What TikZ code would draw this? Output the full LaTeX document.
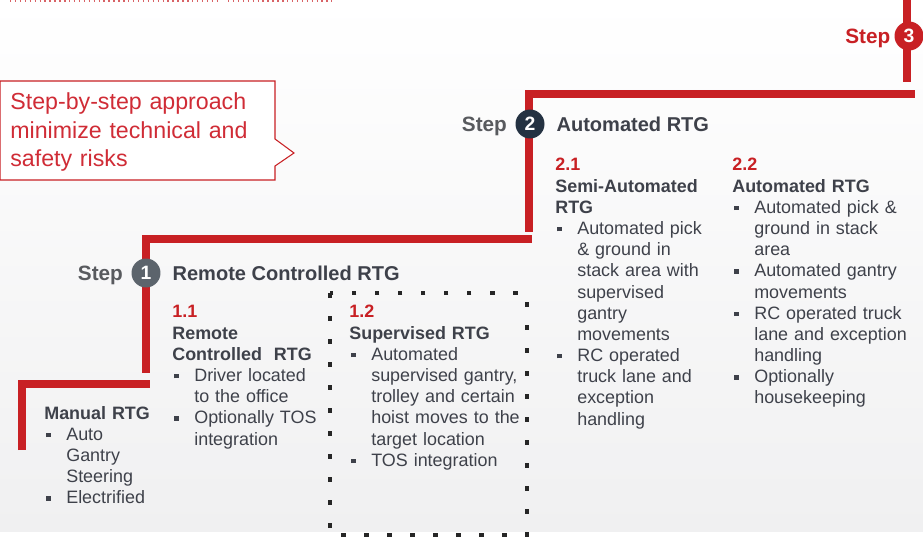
\documentclass[tikz,border=0pt]{standalone}
\usepackage{fontspec}
\setmainfont{Liberation Sans}
\usetikzlibrary{positioning}

\definecolor{stepred}{RGB}{200,32,36}
\definecolor{notered}{RGB}{208,44,54}
\definecolor{textgray}{RGB}{62,65,74}
\definecolor{labelgray}{RGB}{88,90,94}
\definecolor{dotgray}{RGB}{92,100,108}
\definecolor{dotnavy}{RGB}{36,50,66}
\definecolor{bggray}{RGB}{240,240,241}

\newcommand{\bl}{\makebox[12.5pt][l]{\hspace{1.2pt}\rule[1.8pt]{2.4pt}{2.4pt}}}
\newcommand{\ct}{\hspace*{12.5pt}}
\newcommand{\secno}[1]{{\color{stepred}\bfseries #1}}

\begin{document}
\begin{tikzpicture}
                [
                    x=0.02cm, y=-0.02cm,
                    stair/.style = {draw=stepred, line width=5pt, line join=miter},
                    stepdot/.style = {circle, fill=#1, text=white, font=\fontsize{11}{12}\selectfont\bfseries, minimum size=16.5pt, inner sep=0pt},
                    steplabel/.style = {text=labelgray, font=\fontsize{11.8}{14}\selectfont\bfseries, inner sep=0pt, text depth=0pt},
                    heading/.style = {text=textgray, font=\fontsize{11.4}{14}\selectfont\bfseries, inner sep=0pt},
                    textblock/.style = {anchor=base west, text width=4cm, align=left, inner sep=0pt, text=textgray, font=\fontsize{10.2}{12.05}\selectfont},
                    notebox/.style = {draw=stepred, fill=white, line width=0.6pt},
                    notetext/.style = {anchor=base west, text width=6cm, align=left, inner sep=0pt, text=notered, font=\fontsize{13.2}{16.2}\selectfont},
                    dotbox/.style = {draw=black!85, line width=2.6pt, dash pattern=on 2.6pt off 10.5pt}
                ]

                \useasboundingbox (0,0) rectangle (923,540);
                \shade[top color=white, bottom color=bggray] (0,0) rectangle (923,531);
                \draw[stepred!70, line width=0.8pt, dotted] (10,1) -- (217,1) (228,1) -- (332,1);

                % staircase
                \coordinate (s0b) at (22,450);
                \coordinate (s0e) at (150,384);
                \coordinate (s1b) at (146,373);
                \coordinate (s1e) at (532,239);
                \coordinate (s2b) at (529,232);
                \coordinate (s2e) at (915,94);
                \coordinate (s3b) at (907,82);
                \coordinate (s3e) at (907,0);
                \draw[stair] (s0b) |- (s0e);
                \draw[stair] (s1b) |- (s1e);
                \draw[stair] (s2b) |- (s2e);
                \draw[stair] (s3b) -- (s3e);

                \node (one) [stepdot=dotgray] at (146,273) {1};
                \node (two) [stepdot=dotnavy] at (530,124) {2};
                \node (three) [stepdot=stepred] at (909,36) {3};

                \node (stepone) [steplabel, left=4.5pt of one] {Step};
                \node (steptwo) [steplabel, left=4.5pt of two] {Step};
                \node (stepthree) [steplabel, text=stepred, left=2pt of three] {Step};

                \node (rc) [heading, right=6.5pt of one] {Remote Controlled RTG};
                \node (auto) [heading, right=6.5pt of two] {Automated RTG};

                % callout
                \draw[notebox] (0,81) -- (275,81) -- (275,139) -- (294,153) -- (275,166) -- (275,180) -- (0,180) -- cycle;
                \node (note) [notetext] at (10,110) {Step-by-step approach\\ minimize technical and\\ safety risks};

                \draw[dotbox] (330,293) rectangle (527,535);

                \node (manual) [textblock] at (44,419) {\textbf{Manual RTG}\\ \bl Auto\\ \ct Gantry\\ \ct Steering\\ \bl Electrified};
                \node (rcblock) [textblock] at (172,318) {\secno{1.1}\\ \textbf{Remote}\\ \textbf{Controlled\ \ RTG}\\ \bl Driver located\\ \ct to the office\\ \bl Optionally TOS\\ \ct integration};
                \node (supblock) [textblock] at (349,318) {\secno{1.2}\\ \textbf{Supervised RTG}\\ \bl Automated\\ \ct supervised gantry,\\ \ct trolley and certain\\ \ct hoist moves to the\\ \ct target location\\ \bl TOS integration};
                \node (semiblock) [textblock] at (555,171) {\secno{2.1}\\ \textbf{Semi-Automated}\\ \textbf{RTG}\\ \bl Automated pick\\ \ct \& ground in\\ \ct stack area with\\ \ct supervised\\ \ct gantry\\ \ct movements\\ \bl RC operated\\ \ct truck lane and\\ \ct exception\\ \ct handling};
                \node (autoblock) [textblock] at (732,171) {\secno{2.2}\\ \textbf{Automated RTG}\\ \bl Automated pick \&\\ \ct ground in stack\\ \ct area\\ \bl Automated gantry\\ \ct movements\\ \bl RC operated truck\\ \ct lane and exception\\ \ct handling\\ \bl Optionally\\ \ct housekeeping};

            \end{tikzpicture}
\end{document}
